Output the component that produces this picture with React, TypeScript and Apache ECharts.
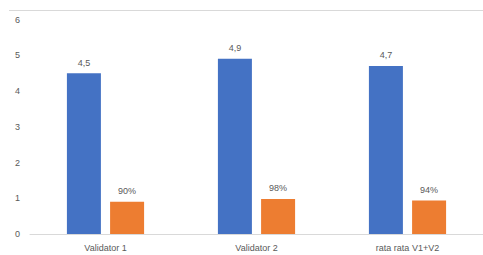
import React, { useEffect, useRef } from "react";
import * as echarts from "echarts";

const categories = ["Validator 1", "Validator 2", "rata rata V1+V2"];
const scoreValues = [4.5, 4.9, 4.7];
const percentValues = [0.9, 0.98, 0.94];
const yTicks = [0, 1, 2, 3, 4, 5, 6];

const FONT = "'Liberation Sans', Arial, sans-serif";
const TEXT = "#595959";

export default function App() {
  const ref = useRef<HTMLDivElement>(null);
  useEffect(() => {
    if (!ref.current) return;
    const chart = echarts.init(ref.current, undefined, { renderer: "svg" });
    chart.setOption({
      animation: false,
      textStyle: { fontFamily: FONT },
      grid: { left: 30, right: 0, top: 19.5, bottom: 21, containLabel: false },
      graphic: [
        {
          type: "line",
          shape: { x1: 9, y1: 10.5, x2: 483, y2: 10.5 },
          style: { stroke: "#d9d9d9", lineWidth: 1 },
          silent: true,
        },
      ],
      xAxis: {
        type: "category",
        data: categories,
        axisTick: { show: false },
        axisLine: { lineStyle: { color: "#d9d9d9", width: 1 } },
        axisLabel: { color: TEXT, fontSize: 9, fontFamily: FONT, margin: 9 },
      },
      yAxis: {
        type: "value",
        min: yTicks[0],
        max: yTicks[yTicks.length - 1],
        interval: 1,
        splitLine: { show: false },
        axisLine: { show: false },
        axisTick: { show: false },
        axisLabel: { color: TEXT, fontSize: 9, fontFamily: FONT, margin: 10 },
      },
      series: [
        {
          type: "bar",
          data: scoreValues,
          barWidth: 34,
          barGap: "27%",
          itemStyle: { color: "#4472C4" },
          label: {
            show: true,
            position: "top",
            distance: 6,
            color: TEXT,
            fontSize: 9,
            fontFamily: FONT,
            formatter: (p: any) => String(p.value).replace(".", ","),
          },
        },
        {
          type: "bar",
          data: percentValues,
          barWidth: 34,
          itemStyle: { color: "#ED7D31" },
          label: {
            show: true,
            position: "top",
            distance: 6,
            color: TEXT,
            fontSize: 9,
            fontFamily: FONT,
            formatter: (p: any) => Math.round(p.value * 100) + "%",
          },
        },
      ],
    });
    return () => chart.dispose();
  }, []);
  return <div ref={ref} style={{ width: 483, height: 255, position: "absolute", left: 0, top: 0 }} />;
}
